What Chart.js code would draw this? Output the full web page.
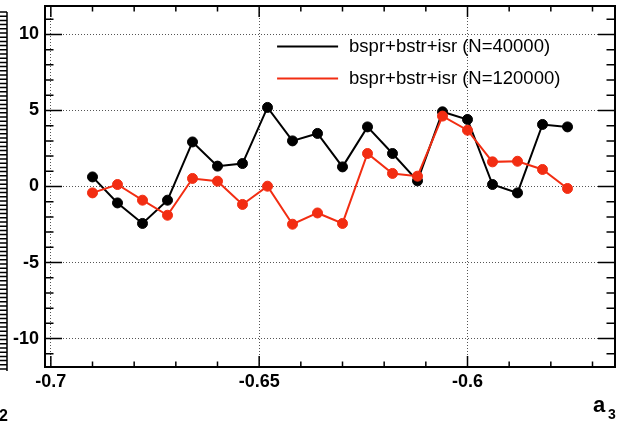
<!DOCTYPE html>
<html>
<head>
<meta charset="utf-8">
<title>a3 scan</title>
<script src="https://cdn.jsdelivr.net/npm/chart.js@4/dist/chart.umd.min.js"></script>
<style>
  body { margin: 0; background: #fff; }
  canvas { display: block; }
</style>
</head>
<body>
<canvas id="myChart" width="627" height="422"></canvas>
<script>
// a3 scan points
const xVals = [-0.690, -0.684, -0.678, -0.672, -0.666, -0.660, -0.654, -0.648, -0.642, -0.636,
               -0.630, -0.624, -0.618, -0.612, -0.606, -0.600, -0.594, -0.588, -0.582, -0.576]
const blackVals = [0.63, -1.08, -2.43, -0.90, 2.93, 1.34, 1.51, 5.20, 3.00, 3.49,
                   1.29, 3.92, 2.17, 0.37, 4.91, 4.41, 0.13, -0.42, 4.08, 3.92]
const redVals = [-0.42, 0.13, -0.90, -1.89, 0.53, 0.35, -1.18, 0.02, -2.48, -1.74,
                 -2.43, 2.17, 0.86, 0.68, 4.63, 3.70, 1.62, 1.66, 1.12, -0.13]
const seriesNames = ["bspr+bstr+isr (N=40000)", "bspr+bstr+isr (N=120000)"]

// axes
const xTicks = [-0.7, -0.65, -0.6]
const xTickLabels = ["-0.7", "-0.65", "-0.6"]
const yTicks = [-10, -5, 0, 5, 10]
const yTickLabels = ["-10", "-5", "0", "5", "10"]
const xTitle = "a"
const xTitleSub = "3"

const FONT = "'Liberation Sans', Arial, Helvetica, sans-serif"
const BLACK = "#000000"
const RED = "#f22d12"

document.addEventListener("DOMContentLoaded", function(event) {
  const ctx = document.getElementById('myChart').getContext('2d')

  const toPoints = vals => vals.map((v, i) => ({x: xVals[i], y: v}))

  // no extra room for half labels, the frame is placed by layout padding only
  const noPad = scale => {
    scale.paddingTop = 0; scale.paddingBottom = 0
    scale.paddingLeft = 0; scale.paddingRight = 0
  }

  // ROOT style frame: ticks inward on all four sides, minor ticks too
  const framePlugin = {
    id: 'frame',
    afterDraw(chart) {
      const c = chart.ctx
      const area = chart.chartArea
      const xs = chart.scales.x
      const ys = chart.scales.y
      c.save()
      c.strokeStyle = '#000'
      c.lineWidth = 1.5

      // x ticks, major every 0.05, minor every 0.01
      for (let k = 0; k < 20; k++) {
        const v = -0.70 + k * 0.01
        if (v > xs.max) break
        const px = xs.getPixelForValue(v)
        const len = (k % 5 === 0) ? 11 : 5.5
        c.beginPath()
        c.moveTo(px, area.bottom); c.lineTo(px, area.bottom - len)
        c.moveTo(px, area.top); c.lineTo(px, area.top + len)
        c.stroke()
      }
      // y ticks, major every 5, minor every 1
      for (let v = -11; v <= 11; v++) {
        const py = ys.getPixelForValue(v)
        const len = (v % 5 === 0) ? 17 : 8.5
        c.beginPath()
        c.moveTo(area.left, py); c.lineTo(area.left + len, py)
        c.moveTo(area.right, py); c.lineTo(area.right - len, py)
        c.stroke()
      }

      c.lineWidth = 2
      c.strokeRect(area.left, area.top, area.right - area.left, area.bottom - area.top)

      // legend, inside the frame, no box
      const lx = xs.getPixelForValue(-0.6457)
      const rows = [{name: seriesNames[0], color: BLACK, y: ys.getPixelForValue(9.2)},
                    {name: seriesNames[1], color: RED, y: ys.getPixelForValue(7.1)}]
      c.font = '18.5px ' + FONT
      c.textBaseline = 'middle'
      c.textAlign = 'left'
      rows.forEach(r => {
        c.strokeStyle = r.color
        c.lineWidth = 2
        c.beginPath()
        c.moveTo(lx, r.y); c.lineTo(lx + 61, r.y)
        c.stroke()
        c.fillStyle = '#000'
        c.fillText(r.name, lx + 72, r.y)
      })

      // axis title a_3
      c.font = 'bold 22px ' + FONT
      c.textBaseline = 'alphabetic'
      c.fillText(xTitle, 593, 412)
      c.font = 'bold 14px ' + FONT
      c.fillText(xTitleSub, 608, 419)

      // leftover of the neighbouring pad
      c.font = 'bold 16px ' + FONT
      c.fillText("2", -1, 421)
      c.strokeStyle = '#000'
      c.lineWidth = 1.5
      c.beginPath()
      c.moveTo(7, 12); c.lineTo(7, 371)
      for (let y = 12; y <= 371; y += 4.2) {
        c.moveTo(0, y); c.lineTo(7, y)
      }
      c.stroke()
      c.restore()
    }
  }//end of frame plugin

  const chart = new Chart(ctx, {
    type: 'line',
    data: {
      datasets: [
        {
          label: seriesNames[0],
          data: toPoints(blackVals),
          borderColor: BLACK,
          backgroundColor: BLACK,
          borderWidth: 2,
          pointRadius: 5,
          pointBorderWidth: 1,
          order: 1
        },
        {
          label: seriesNames[1],
          data: toPoints(redVals),
          borderColor: RED,
          backgroundColor: RED,
          borderWidth: 2,
          pointRadius: 5,
          pointBorderWidth: 1,
          order: 0
        }
      ]
    },
    options: {
      responsive: false,
      animation: false,
      devicePixelRatio: 1,
      layout: { padding: { top: 6, right: 12, left: 0, bottom: 0 } },
      plugins: { legend: { display: false }, tooltip: { enabled: false } },
      scales: {
        x: {
          type: 'linear',
          min: -0.7014,
          max: -0.5646,
          afterBuildTicks: scale => { scale.ticks = xTicks.map(v => ({value: v})) },
          afterFit: scale => { scale.height = 55; noPad(scale) },
          ticks: {
            callback: (val, i) => xTickLabels[i],
            font: { family: FONT, size: 18, weight: 'bold' },
            color: '#000',
            padding: 4,
            maxRotation: 0,
            autoSkip: false
          },
          grid: { color: '#555', lineWidth: 1, drawTicks: false },
          border: { display: false, dash: [1, 2] }
        },
        y: {
          min: -11.87,
          max: 11.87,
          afterBuildTicks: scale => { scale.ticks = yTicks.map(v => ({value: v})) },
          afterFit: scale => { scale.width = 45; noPad(scale) },
          ticks: {
            callback: (val, i) => yTickLabels[i],
            font: { family: FONT, size: 18, weight: 'bold' },
            color: '#000',
            padding: 6
          },
          grid: { color: '#555', lineWidth: 1, drawTicks: false },
          border: { display: false, dash: [1, 2] }
        }
      }
    },
    plugins: [framePlugin]
  })
});//end of DOMContentLoaded
</script>
</body>
</html>
